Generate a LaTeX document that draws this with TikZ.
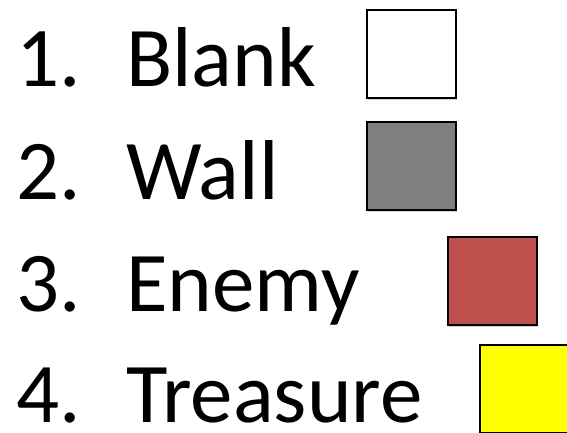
\documentclass[tikz,border=0pt]{standalone}
\usepackage{fontspec}
\setmainfont{Carlito}
\definecolor{wallgray}{HTML}{7F7F7F}
\definecolor{enemyred}{HTML}{C0504D}
\definecolor{treasureyellow}{HTML}{FFFF00}
\begin{document}
\begin{tikzpicture}[x=1pt,y=-1pt,
  lbl/.style={anchor=base west,inner sep=0pt,font=\fontsize{85}{85}\selectfont},
  swatch/.style={draw=black,line width=2pt,minimum width=89pt,minimum height=88pt,inner sep=0pt,anchor=north west},
  shade/.style={fill=black!18,minimum width=89pt,minimum height=88pt,inner sep=0pt,anchor=north west}]
\useasboundingbox (0,0) rectangle (567,433);
\clip (0,0) rectangle (567,433);
% labels
\node[lbl] (n1) at (16,87) {1.};
\node[lbl] (t1) at (126,87) {Blank};
\node[lbl] (n2) at (16,199) {2.};
\node[lbl] (t2) at (126,199) {Wall};
\node[lbl] (n3) at (16,311) {3.};
\node[lbl] (t3) at (126,311) {Enemy};
\node[lbl] (n4) at (16,422) {4.};
\node[lbl] (t4) at (126,422) {Treasure};
% shadows
\node[shade] at (368,12) {};
\node[shade] at (368,124) {};
\node[shade] at (449,239) {};
\node[shade] at (481,347) {};
% swatches
\node[swatch,fill=white] (s1) at (366,9) {};
\node[swatch,fill=wallgray] (s2) at (366,121) {};
\node[swatch,fill=enemyred] (s3) at (447,236) {};
\node[swatch,fill=treasureyellow] (s4) at (479,344) {};
\end{tikzpicture}
\end{document}
